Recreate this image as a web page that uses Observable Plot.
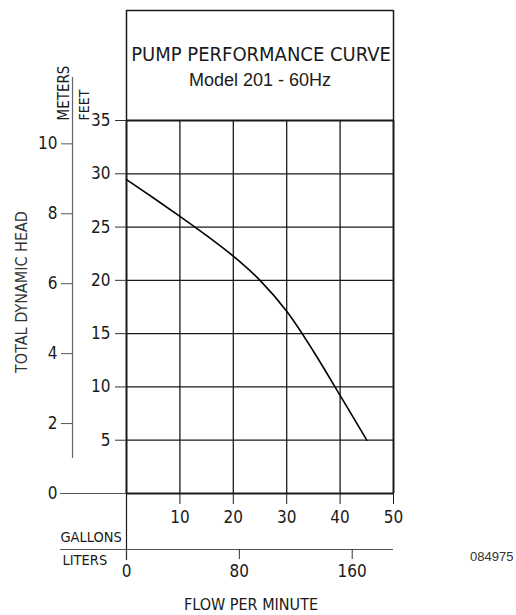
<!DOCTYPE html>
<html>
<head>
<meta charset="utf-8">
<script src="https://cdn.jsdelivr.net/npm/d3@7"></script>
<script src="https://cdn.jsdelivr.net/npm/@observablehq/plot@0.6"></script>
<style>
  html, body { margin: 0; padding: 0; background: #fff; }
  #chart { width: 516px; height: 615px; }
</style>
</head>
<body>
<div id="chart"></div>
<script>
// ---- data ----
const flowGpm = [0, 5, 10, 15, 20, 25, 30, 35, 40, 45];
const headFt  = [29.45, 27.75, 26.0, 24.2, 22.27, 20.0, 17.1, 13.35, 9.2, 5.0];

const gallonTicks = [10, 20, 30, 40, 50];
const literTicks  = [0, 80, 160];
const feetTicks   = [5, 10, 15, 20, 25, 30, 35];
const meterTicks  = [0, 2, 4, 6, 8, 10];
const gridX = [10, 20, 30, 40];
const gridY = [5, 10, 15, 20, 25, 30];

const LITERS_PER_GALLON = 3.78541;
const FEET_PER_METER = 3.28084;

const titleText = "PUMP PERFORMANCE CURVE";
const subtitleText = "Model 201 - 60Hz";
const yLabel = "TOTAL DYNAMIC HEAD";
const xLabel = "FLOW PER MINUTE";
const drawingNo = "084975";

const curve = flowGpm.map((g, i) => ({gpm: g, ft: headFt[i]}));

const NARROW = '"Liberation Sans Narrow", "Arial Narrow", "DejaVu Sans Condensed", sans-serif';
const SANS = '"Liberation Sans", Arial, sans-serif';
const INK = "#1a1a1a";

const plot = Plot.plot({
  width: 516,
  height: 615,
  marginLeft: 126,
  marginRight: 123,
  marginTop: 120,
  marginBottom: 122,
  style: {fontFamily: NARROW, fontSize: "17px", color: INK, background: "#fff", overflow: "visible"},
  x: {domain: [0, 50], axis: null},
  y: {domain: [0, 35], axis: null},
  marks: [
    // grid
    Plot.ruleX(gridX, {stroke: INK, strokeWidth: 1.3}),
    Plot.ruleY(gridY, {stroke: INK, strokeWidth: 1.3}),
    // title box
    Plot.ruleX([0, 50], {y1: 35, y2: 35, insetTop: -110, stroke: INK, strokeWidth: 1.5}),
    Plot.ruleY([35], {dy: -110, stroke: INK, strokeWidth: 1.5}),
    // left extension of the zero line
    Plot.ruleY([0], {x1: 0, x2: 0, insetLeft: -66, stroke: "#555", strokeWidth: 1.2}),
    // meters axis line
    Plot.ruleX([0], {dx: -54, insetTop: -43, insetBottom: 35, stroke: "#666", strokeWidth: 1.2}),
    // downward extension of the x=0 line
    Plot.ruleX([0], {y1: 0, y2: 0, insetBottom: -67, stroke: INK, strokeWidth: 1.2}),
    // liters axis line
    Plot.ruleY([0], {dy: 56, insetLeft: -66, stroke: "#555", strokeWidth: 1.2}),
    // frame borders
    Plot.ruleX([0, 50], {stroke: INK, strokeWidth: 2}),
    Plot.ruleY([0, 35], {stroke: INK, strokeWidth: 2}),
    // feet axis
    Plot.axisY(feetTicks, {anchor: "left", label: null, tickSize: 11, tickPadding: 5, stroke: "#333", fill: INK, fontSize: 17}),
    // meters axis
    Plot.axisY(meterTicks.map(m => m * FEET_PER_METER), {
      anchor: "left", label: null, dx: -54, tickSize: 11, tickPadding: 4, stroke: "#555", fill: INK, fontSize: 17,
      tickFormat: d => String(Math.round(d / FEET_PER_METER))
    }),
    // gallons axis
    Plot.axisX(gallonTicks, {anchor: "bottom", label: null, tickSize: 11, tickPadding: 6, stroke: INK, fill: INK, fontSize: 17}),
    // liters axis
    Plot.axisX(literTicks.map(l => l / LITERS_PER_GALLON), {
      anchor: "bottom", label: null, dy: 56, tickSize: 10, tickPadding: 5, stroke: "#333", fill: INK, fontSize: 17,
      tickFormat: d => String(Math.round(d * LITERS_PER_GALLON))
    }),
    // performance curve
    Plot.line(curve, {x: "gpm", y: "ft", curve: "catmull-rom", stroke: "#000", strokeWidth: 1.6}),
    // titles
    Plot.text([titleText], {frameAnchor: "top", dx: 1, dy: -60, lineAnchor: "bottom", fontSize: 20, fill: INK,
      fontFamily: NARROW, letterSpacing: "0.5px", wordSpacing: "7px"}),
    Plot.text([subtitleText], {frameAnchor: "top", dy: -35, lineAnchor: "bottom", fontSize: 18, fill: INK,
      fontFamily: SANS}),
    // unit labels
    Plot.text(["METERS"], {frameAnchor: "top-left", dx: -58, dy: 0, rotate: -90, textAnchor: "start",
      lineAnchor: "bottom", fontSize: 15, fill: INK}),
    Plot.text(["FEET"], {frameAnchor: "top-left", dx: -38, dy: 0, rotate: -90, textAnchor: "start",
      lineAnchor: "bottom", fontSize: 14, fill: INK}),
    Plot.text([yLabel], {frameAnchor: "left", dx: -105, dy: -15, rotate: -90, textAnchor: "middle", lineAnchor: "middle",
      fontSize: 16, fill: "#333"}),
    Plot.text(["GALLONS"], {frameAnchor: "bottom-left", dx: -66, dy: 44, textAnchor: "start", lineAnchor: "middle",
      fontSize: 14.5, fill: INK}),
    Plot.text(["LITERS"], {frameAnchor: "bottom-left", dx: -64, dy: 67, textAnchor: "start", lineAnchor: "middle",
      fontSize: 14.5, fill: INK}),
    Plot.text([xLabel], {frameAnchor: "bottom", dx: -9, dy: 111, lineAnchor: "middle", fontSize: 16, fill: INK,
      wordSpacing: "5px", letterSpacing: "0.2px"}),
    Plot.text([drawingNo], {frameAnchor: "bottom-right", dx: 120, dy: 63, textAnchor: "end", lineAnchor: "middle",
      fontSize: 13, fill: "#333", fontFamily: SANS})
  ]
});
document.getElementById("chart").appendChild(plot);
</script>
</body>
</html>
